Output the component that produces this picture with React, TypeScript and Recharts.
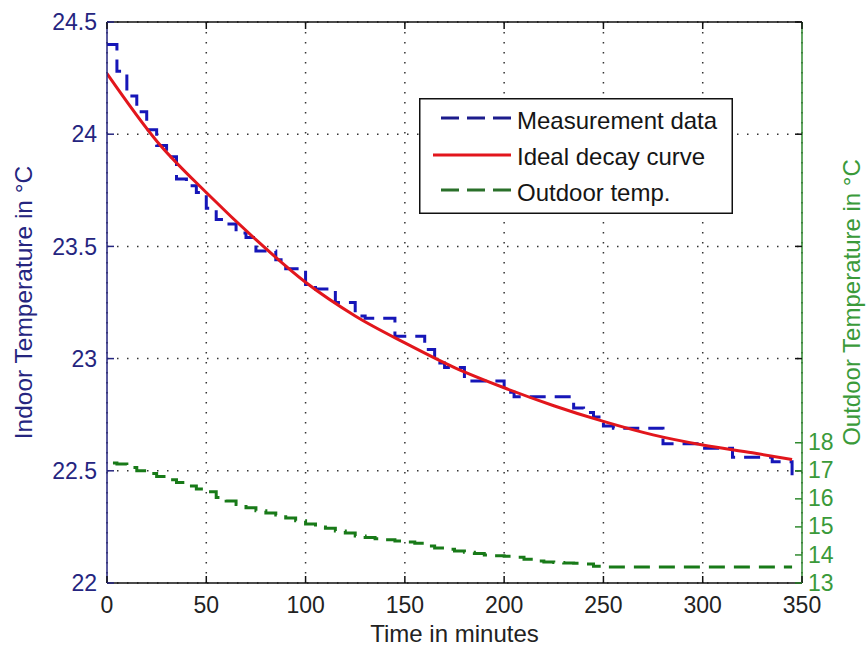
import React from 'react';
import { LineChart, Line, XAxis, YAxis, CartesianGrid, ReferenceLine, Legend, Label } from 'recharts';

const FONT = '"Liberation Sans", Arial, Helvetica, sans-serif';

// ---- data ----
const xTicks = [0, 50, 100, 150, 200, 250, 300, 350];
const leftTicks = [22, 22.5, 23, 23.5, 24, 24.5];
const rightTicks = [13, 14, 15, 16, 17, 18];

const measuredTimes = [
  0, 5, 10, 15, 20, 25, 30, 35, 40, 45, 50, 55, 60, 65, 70, 75, 80, 85, 90, 95,
  100, 105, 110, 115, 120, 125, 130, 135, 140, 145, 150, 155, 160, 165, 170, 175, 180, 185, 190, 195,
  200, 205, 210, 215, 220, 225, 230, 235, 240, 245, 250, 255, 260, 265, 270, 275, 280, 285, 290, 295,
  300, 305, 310, 315, 320, 325, 330, 335, 340, 345,
];
const measuredValues = [
  24.40, 24.28, 24.17, 24.10, 24.02, 23.95, 23.90, 23.80, 23.77, 23.74,
  23.67, 23.62, 23.60, 23.56, 23.54, 23.48, 23.48, 23.44, 23.40, 23.40,
  23.33, 23.31, 23.31, 23.25, 23.25, 23.19, 23.18, 23.18, 23.18, 23.10,
  23.10, 23.10, 23.04, 22.98, 22.96, 22.96, 22.90, 22.90, 22.90, 22.90,
  22.85, 22.83, 22.83, 22.83, 22.83, 22.83, 22.83, 22.78, 22.76, 22.74,
  22.70, 22.69, 22.69, 22.69, 22.69, 22.69, 22.62, 22.62, 22.62, 22.62,
  22.60, 22.60, 22.60, 22.56, 22.56, 22.56, 22.56, 22.54, 22.54, 22.47,
];

const idealTimes = [0, 25, 50, 75, 100, 125, 150, 175, 200, 225, 250, 275, 300, 325, 345];
const idealValues = [24.27, 23.97, 23.74, 23.53, 23.34, 23.19, 23.07, 22.96, 22.87, 22.79, 22.72, 22.66, 22.615, 22.58, 22.55];

const outdoorTimes = [
  3, 5, 10, 15, 20, 25, 30, 35, 40, 45, 50, 55, 60, 65, 70, 75, 80, 85, 90, 95,
  100, 105, 110, 115, 120, 125, 130, 135, 140, 145, 150, 155, 160, 165, 170, 175, 180, 185, 190, 195,
  200, 205, 210, 215, 220, 225, 230, 235, 240, 245, 250, 255, 260, 265, 270, 275, 280, 285, 290, 295,
  300, 305, 310, 315, 320, 325, 330, 335, 340, 345,
];
const outdoorValues = [
  17.28, 17.24, 17.12, 17.00, 16.90, 16.80, 16.68, 16.58, 16.46, 16.35,
  16.25, 16.05, 15.92, 15.80, 15.68, 15.58, 15.50, 15.42, 15.32, 15.22,
  15.10, 15.00, 14.95, 14.85, 14.78, 14.68, 14.62, 14.58, 14.54, 14.50,
  14.46, 14.42, 14.32, 14.25, 14.20, 14.14, 14.10, 14.05, 14.00, 13.97,
  13.95, 13.92, 13.85, 13.78, 13.75, 13.73, 13.71, 13.70, 13.68, 13.60,
  13.57, 13.57, 13.57, 13.57, 13.57, 13.57, 13.57, 13.57, 13.57, 13.57,
  13.57, 13.57, 13.57, 13.57, 13.57, 13.57, 13.57, 13.57, 13.57, 13.57,
];

const measuredData = measuredTimes.map((t, i) => ({ t, v: measuredValues[i] }));
const idealData = idealTimes.map((t, i) => ({ t, v: idealValues[i] }));
const outdoorData = outdoorTimes.map((t, i) => ({ t, v: outdoorValues[i] }));

// ---- styles ----
const W = 868;
const H = 650;
const PLOT_TOP = 22;
const PLOT_RIGHT = 802;
const NAVY = '#25257f';
const GREEN_AXIS = '#2f8a2f';
const GREEN_TEXT = '#3a9a3a';
const BLUE = '#1616b8';
const RED = '#e2161c';
const GREEN = '#187a18';
const FS = 23;
const TICK_LEN = 7;

const LeftTick = (props: any) => {
  const { x, y, payload } = props;
  return (
    <g>
      <line x1={x} x2={x + TICK_LEN} y1={y} y2={y} stroke={NAVY} strokeWidth={1.5} />
      <line x1={PLOT_RIGHT - TICK_LEN} x2={PLOT_RIGHT} y1={y} y2={y} stroke="#111" strokeWidth={1.5} />
      <text x={x - 10} y={y} dy="0.36em" textAnchor="end" fontSize={FS} fontFamily={FONT} fill={NAVY}>
        {payload.value}
      </text>
    </g>
  );
};

const RightTick = (props: any) => {
  const { x, y, payload } = props;
  return (
    <g>
      <line x1={x - TICK_LEN} x2={x} y1={y} y2={y} stroke={GREEN_AXIS} strokeWidth={1.5} />
      <text x={x + 6} y={y} dy="0.33em" textAnchor="start" fontSize={FS} fontFamily={FONT} fill={GREEN_TEXT}>
        {payload.value}
      </text>
    </g>
  );
};

const BottomTick = (props: any) => {
  const { x, y, payload } = props;
  return (
    <g>
      <line x1={x} x2={x} y1={y} y2={y - TICK_LEN} stroke="#111" strokeWidth={1.5} />
      <line x1={x} x2={x} y1={PLOT_TOP} y2={PLOT_TOP + TICK_LEN} stroke="#111" strokeWidth={1.5} />
      <text x={x} y={y + 30} textAnchor="middle" fontSize={FS} fontFamily={FONT} fill="#222">
        {payload.value}
      </text>
    </g>
  );
};

const LegendBox = () => (
  <svg width={314} height={116} style={{ display: 'block' }}>
    <rect x={0.75} y={0.75} width={312.5} height={114.5} fill="#fff" stroke="#111" strokeWidth={1.5} />
    <line x1={22} x2={92} y1={20} y2={20} stroke="#1c1c8c" strokeWidth={3} strokeDasharray="18 8" />
    <text x={98} y={22} dominantBaseline="central" fontSize={24} fontFamily={FONT} fill="#151515">Measurement data</text>
    <line x1={14} x2={92} y1={57} y2={57} stroke={RED} strokeWidth={3} />
    <text x={98} y={58} dominantBaseline="central" fontSize={24} fontFamily={FONT} fill="#151515">Ideal decay curve</text>
    <line x1={22} x2={92} y1={92} y2={92} stroke="#2a702a" strokeWidth={3} strokeDasharray="18 8" />
    <text x={98} y={94} dominantBaseline="central" fontSize={24} fontFamily={FONT} fill="#151515">Outdoor temp.</text>
  </svg>
);

export default function App() {
  return (
    <div style={{ position: 'absolute', left: 0, top: 0, width: W, height: H, background: '#fff' }}>
      <LineChart width={W} height={H} margin={{ top: PLOT_TOP, right: 0, bottom: 0, left: 0 }}>
        <CartesianGrid
          xAxisId="x"
          yAxisId="left"
          stroke="#333"
          strokeWidth={1.5}
          strokeDasharray="1.5 8.5"
        />
        <XAxis
          xAxisId="x"
          dataKey="t"
          type="number"
          domain={[0, 350]}
          ticks={xTicks}
          allowDataOverflow
          height={67}
          tickSize={0}
          tickMargin={0}
          tickLine={false}
          axisLine={{ stroke: '#111', strokeWidth: 1.5 }}
          tick={<BottomTick />}
          interval={0}
        >
          <Label
            content={(p: any) => {
              const vb = p.viewBox || { x: 107, y: 583, width: 695 };
              return (
                <text x={vb.x + vb.width / 2} y={vb.y + 59} textAnchor="middle" fontSize={24} fontFamily={FONT} fill="#222">
                  Time in minutes
                </text>
              );
            }}
          />
        </XAxis>
        <YAxis
          yAxisId="left"
          orientation="left"
          type="number"
          domain={[22, 24.5]}
          ticks={leftTicks}
          allowDataOverflow
          width={107}
          tickSize={0}
          tickMargin={0}
          tickLine={false}
          axisLine={{ stroke: NAVY, strokeWidth: 1.5 }}
          tick={<LeftTick />}
          interval={0}
        >
          <Label
            content={(p: any) => {
              const vb = p.viewBox || { x: 0, y: 22, height: 561 };
              const cx = vb.x + 23;
              const cy = vb.y + vb.height / 2;
              return (
                <text x={cx} y={cy} transform={`rotate(-90, ${cx}, ${cy})`} textAnchor="middle" dominantBaseline="central" fontSize={24.5} fontFamily={FONT} fill={NAVY}>
                  Indoor Temperature in °C
                </text>
              );
            }}
          />
        </YAxis>
        <YAxis
          yAxisId="right"
          orientation="right"
          type="number"
          domain={[13, 33]}
          ticks={rightTicks}
          allowDataOverflow
          width={66}
          tickSize={0}
          tickMargin={0}
          tickLine={false}
          axisLine={{ stroke: GREEN_AXIS, strokeWidth: 1.5 }}
          tick={<RightTick />}
          interval={0}
        >
          <Label
            content={(p: any) => {
              const vb = p.viewBox || { x: 802, y: 22, height: 561 };
              const cx = vb.x + 49;
              const cy = vb.y + vb.height / 2;
              return (
                <text x={cx} y={cy} transform={`rotate(-90, ${cx}, ${cy})`} textAnchor="middle" dominantBaseline="central" fontSize={24} fontFamily={FONT} fill={GREEN_TEXT}>
                  Outdoor Temperature in °C
                </text>
              );
            }}
          />
        </YAxis>
        <ReferenceLine xAxisId="x" yAxisId="left" y={24.5} stroke="#111" strokeWidth={1.5} />
        <Line
          xAxisId="x"
          yAxisId="left"
          data={measuredData}
          dataKey="v"
          type="stepAfter"
          stroke={BLUE}
          strokeWidth={3}
          strokeDasharray="16 9"
          dot={false}
          activeDot={false}
          isAnimationActive={false}
          name="Measurement data"
        />
        <Line
          xAxisId="x"
          yAxisId="left"
          data={idealData}
          dataKey="v"
          type="monotone"
          stroke={RED}
          strokeWidth={3}
          dot={false}
          activeDot={false}
          isAnimationActive={false}
          name="Ideal decay curve"
        />
        <Line
          xAxisId="x"
          yAxisId="right"
          data={outdoorData}
          dataKey="v"
          type="stepAfter"
          stroke={GREEN}
          strokeWidth={3}
          strokeDasharray="16 9"
          dot={false}
          activeDot={false}
          isAnimationActive={false}
          name="Outdoor temp."
        />
        <Legend
          layout="horizontal"
          verticalAlign="middle"
          align="center"
          content={() => <LegendBox />}
          wrapperStyle={{ position: 'absolute', left: 419, top: 98, width: 314, height: 116 }}
        />
      </LineChart>
    </div>
  );
}
